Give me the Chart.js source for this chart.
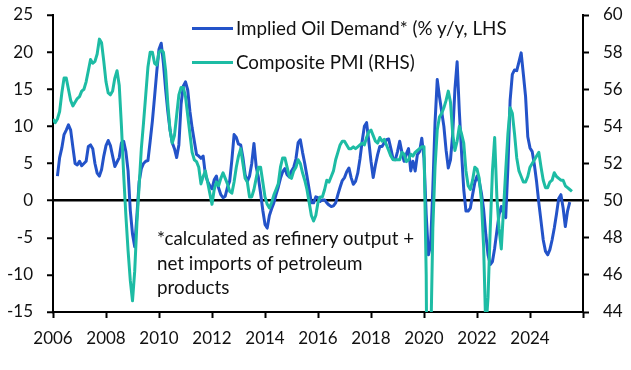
<!DOCTYPE html>
<html>
<head>
<meta charset="utf-8">
<script src="https://cdn.jsdelivr.net/npm/chart.js@4.4.1/dist/chart.umd.min.js"></script>
<style>
  body { margin: 0; background: #fff; }
  #wrap { position: relative; width: 631px; height: 370px; font-family: Lato, sans-serif; color: #111; }
  #chart { position: absolute; left: 0; top: 0; }
  .key { position: absolute; height: 3px; width: 41px; left: 192px; }
  .keytxt { position: absolute; left: 236px; font-size: 18.8px; line-height: 22px; white-space: nowrap; }
  #note { position: absolute; left: 157px; top: 226px; font-size: 18.8px; line-height: 24.5px; white-space: nowrap; }
</style>
</head>
<body>
<div id="wrap">
  <canvas id="chart" width="631" height="370"></canvas>
  <div class="key" style="top:27px;background:#2353c9"></div>
  <div class="keytxt" style="top:17px">Implied Oil Demand* (% y/y, LHS</div>
  <div class="key" style="top:61px;background:#1dbca4"></div>
  <div class="keytxt" style="top:51px">Composite PMI (RHS)</div>
  <div id="note">*calculated as refinery output +<br>net imports of petroleum<br>products</div>
</div>
<script>
// monthly data, first month = Jan 2006
var startYear = 2006;

// Implied oil demand, % y/y (LHS)
var oilDemand = [
  null, null, 3.3, 5.8, 7.1, 8.9, 9.5, 10.2, 9.5, 7.2, 5.0, 4.8,
  5.3, 4.7, 5.0, 5.3, 7.3, 7.5, 7.0, 5.0, 3.7, 3.3, 4.2, 6.0,
  7.4, 8.1, 7.4, 6.0, 4.6, 5.2, 5.8, 7.8, 8.0, 6.6, 4.0, -1.3,
  -4.5, -6.2, -2.0, 2.5, 4.3, 5.0, 5.3, 5.4, 8.0, 10.7, 14.0, 17.4,
  20.4, 21.2, 18.5, 15.0, 12.0, 9.5, 7.8, 7.0, 5.8, 7.5, 13.0, 15.4,
  16.0, 14.9, 12.0, 9.8, 8.0, 6.2, 6.0, 5.7, 6.0, 3.5, 2.6, 2.0,
  1.6, 2.8, 3.3, 1.7, 0.8, 0.4, 0.6, 1.8, 2.6, 5.5, 8.9, 8.5,
  7.6, 7.5, 5.8, 3.5, 2.6, 3.3, 5.0, 7.7, 4.6, 3.1, 1.0, -1.3,
  -3.2, -3.7, -2.0, -1.1, -0.3, 0.8, 1.8, 3.0, 3.9, 4.3, 3.5, 3.2,
  4.0, 4.5, 5.6, 7.8, 8.2, 6.5, 5.0, 3.3, 1.5, -0.3, -0.3, 0.5,
  0.4, -0.1, 0.1, 0.1, -0.3, -0.6, -0.8, -0.7, -0.3, 0.8, 1.8, 2.7,
  3.1, 3.9, 4.4, 3.1, 2.2, 2.6, 3.7, 5.6, 8.0, 10.0, 10.5, 8.0,
  5.3, 3.1, 4.8, 6.2, 7.3, 7.3, 7.8, 8.2, 8.3, 7.0, 5.6, 5.5,
  6.6, 8.0, 6.5, 5.3, 6.3, 7.0, 4.0, 5.3, 4.0, 6.2, 6.6, 8.4,
  5.7, -1.9, -7.3, -6.0, 1.7, 10.5, 16.3, 14.0, 12.0, 10.0, 6.8, 4.4,
  5.5, 9.0, 15.0, 18.7, 12.0, 6.5, 1.5, -1.4, -1.4, -1.0, 0.8, 2.4,
  3.3, 2.6, 1.0, -1.2, -4.6, -7.3, -8.6, -8.2, -6.4, -4.1, -1.9, -0.8,
  -1.7, -2.3, 4.5, 13.5, 17.0, 17.6, 17.5, 18.7, 19.9, 17.0, 14.0, 8.6,
  7.1, 6.6, 4.8, 2.5, -0.3, -2.8, -5.3, -6.8, -7.3, -6.6, -5.3, -3.7,
  -1.8, 0.3, 0.8, -1.0, -3.5, -1.4, -0.2
];

// Composite PMI (RHS)
var compositePmi = [
  54.4, 54.2, 54.4, 54.8, 55.8, 56.6, 56.6, 56.0, 55.4, 55.1, 55.3, 55.5,
  55.6, 55.9, 56.0, 56.4, 57.0, 57.6, 57.4, 57.5, 57.9, 58.7, 58.5, 57.5,
  56.4, 55.8, 55.7, 55.9, 56.6, 57.0, 56.2, 54.0, 51.4, 49.2, 47.3, 45.7,
  44.6, 46.2, 48.8, 50.8, 52.8, 54.2, 55.7, 57.2, 58.0, 58.0, 57.4, 57.3,
  58.0, 58.1, 58.0, 57.0, 55.2, 53.8, 53.1, 53.5, 54.6, 55.7, 56.1, 56.1,
  55.6, 54.6, 53.6, 52.6, 52.2, 52.1, 51.8, 50.9, 51.3, 51.6, 51.0, 50.4,
  49.8, 50.6, 51.0, 50.8, 51.2, 51.5, 51.2, 50.9, 50.5, 50.4, 51.0, 51.8,
  52.4, 52.8, 52.0, 51.2, 51.0, 50.2, 50.2, 50.6, 51.2, 51.8, 51.8, 51.0,
  50.2, 49.8, 49.6, 49.9, 50.3, 50.6, 50.9, 51.8, 52.3, 52.3, 51.8, 51.3,
  51.2, 51.6, 51.8, 52.2, 52.0, 51.5, 51.1, 50.6, 49.9, 49.2, 48.9, 49.2,
  49.9, 50.2, 50.2, 50.6, 51.1, 51.0, 51.3, 51.6, 52.2, 52.6, 53.0, 53.2,
  53.2, 53.0, 52.8, 52.8, 52.9, 52.8, 52.9, 53.0, 53.1, 53.0, 53.4, 53.7,
  53.8, 53.5, 53.2, 53.1, 53.4, 53.2, 53.3, 53.0, 52.7, 52.4, 52.2, 52.2,
  52.2, 52.2, 52.6, 52.5, 52.1, 52.2, 52.5, 52.4, 52.6, 52.7, 52.8, 52.9,
  52.9, 46.0, 28.0, 42.0, 48.5, 51.8, 53.8, 54.5, 54.7, 55.0, 55.4, 55.9,
  55.3, 53.6, 52.7, 53.2, 54.0, 53.6, 53.1, 51.6, 50.8, 50.6, 51.1, 51.8,
  51.7, 51.2, 50.0, 47.5, 43.0, 44.8, 48.5, 51.6, 53.4, 50.2, 48.5, 47.4,
  49.5, 51.6, 53.6, 55.0, 54.7, 53.6, 52.3, 51.6, 51.3, 51.0, 51.0, 51.3,
  51.8, 52.0, 52.2, 52.4, 52.6, 51.8, 51.1, 50.7, 50.7, 51.0, 51.1, 51.5,
  51.3, 51.2, 51.1, 51.1, 50.8, 50.7, 50.6, 50.5
];

var xTicks = [2006, 2008, 2010, 2012, 2014, 2016, 2018, 2020, 2022, 2024];

function toPoints(arr) {
  var pts = [];
  for (var i = 0; i < arr.length; i++) {
    if (arr[i] === null) continue;
    pts.push({ x: startYear + i / 12, y: arr[i] });
  }
  return pts;
}

// fixed axis sizes so the plot area lands where the original one is
function fixWidth(w) {
  return function (s) {
    s.width = w;
    s.paddingTop = 0;
    s.paddingBottom = 0;
  };
}

Chart.defaults.font.family = "Lato, sans-serif";
Chart.defaults.color = "#111";

var ctx = document.getElementById("chart").getContext("2d");
new Chart(ctx, {
  type: "line",
  data: {
    datasets: [
      {
        label: "Implied Oil Demand* (% y/y, LHS",
        data: toPoints(oilDemand),
        yAxisID: "y",
        borderColor: "#2353c9",
        borderWidth: 3,
        pointRadius: 0,
        tension: 0,
        borderJoinStyle: "round",
        order: 1
      },
      {
        label: "Composite PMI (RHS)",
        data: toPoints(compositePmi),
        yAxisID: "y2",
        borderColor: "#1dbca4",
        borderWidth: 3,
        pointRadius: 0,
        tension: 0,
        borderJoinStyle: "round",
        order: 0
      }
    ]
  },
  options: {
    responsive: false,
    animation: false,
    layout: { padding: { top: 15, left: 0, right: 0, bottom: 0 } },
    plugins: { legend: { display: false }, tooltip: { enabled: false } },
    scales: {
      x: {
        type: "linear",
        min: 2006,
        max: 2026,
        afterBuildTicks: function (s) {
          s.ticks = xTicks.concat([2026]).map(function (v) { return { value: v }; });
        },
        ticks: {
          autoSkip: false,
          maxRotation: 0,
          padding: 10,
          color: "#111",
          font: { size: 17 },
          callback: function (v) { return v < 2026 ? String(v) : ""; }
        },
        grid: { drawOnChartArea: false, tickLength: 6, tickColor: "#000", tickWidth: 2 },
        border: { display: true, color: "#000", width: 2 },
        afterFit: function (s) { s.height = 58; }
      },
      y: {
        position: "left",
        min: -15,
        max: 25,
        ticks: { stepSize: 5, padding: 14, color: "#111", font: { size: 17 } },
        grid: {
          color: function (c) { return c.tick && c.tick.value === 0 ? "#000" : "rgba(0,0,0,0)"; },
          lineWidth: 2.5,
          tickLength: 6,
          tickColor: "#000",
          tickWidth: 2
        },
        border: { display: true, color: "#000", width: 2 },
        afterFit: fixWidth(53)
      },
      y2: {
        position: "right",
        min: 44,
        max: 60,
        ticks: { stepSize: 2, padding: 14, color: "#111", font: { size: 17 } },
        grid: { drawOnChartArea: false, tickLength: 6, tickColor: "#000", tickWidth: 2 },
        border: { display: true, color: "#000", width: 2 },
        afterFit: fixWidth(48)
      }
    }
  }
});
</script>
</body>
</html>
